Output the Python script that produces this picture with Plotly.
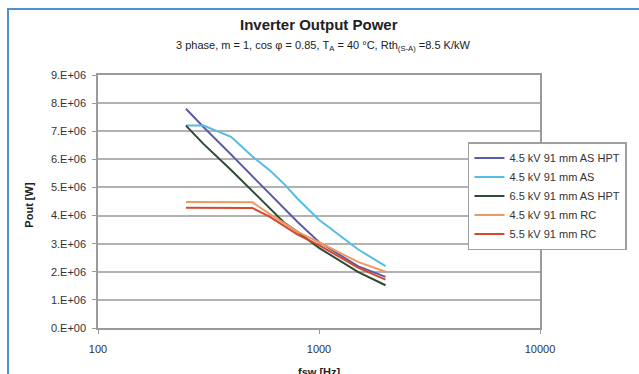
import plotly.graph_objects as go

# ---- data ----
freq = [250, 300, 400, 500, 600, 700, 800, 1000, 1500, 2000]
p_45_as_hpt = [7.8e6, 7.15e6, 6.17e6, 5.4e6, 4.77e6, 4.23e6, 3.77e6, 3.06e6, 2.2e6, 1.82e6]
p_45_as = [7.2e6, 7.2e6, 6.8e6, 6.1e6, 5.6e6, 5.1e6, 4.6e6, 3.85e6, 2.8e6, 2.2e6]
p_65_as_hpt = [7.2e6, 6.55e6, 5.62e6, 4.87e6, 4.23e6, 3.73e6, 3.42e6, 2.85e6, 2.0e6, 1.52e6]
p_45_rc = [4.48e6, 4.48e6, 4.48e6, 4.47e6, 4.05e6, 3.7e6, 3.42e6, 3.05e6, 2.35e6, 2.0e6]
p_55_rc = [4.28e6, 4.28e6, 4.28e6, 4.27e6, 3.95e6, 3.62e6, 3.32e6, 2.95e6, 2.15e6, 1.72e6]

series_names = ["4.5 kV 91 mm AS HPT", "4.5 kV 91 mm AS", "6.5 kV 91 mm AS HPT",
                "4.5 kV 91 mm RC", "5.5 kV 91 mm RC"]
series_vals = [p_45_as_hpt, p_45_as, p_65_as_hpt, p_45_rc, p_55_rc]
series_colors = ["#5b5ba8", "#55bde3", "#2f4a36", "#eb9a60", "#d9472c"]

y_tickvals = [0, 1e6, 2e6, 3e6, 4e6, 5e6, 6e6, 7e6, 8e6, 9e6]
y_ticktext = ["0.E+00", "1.E+06", "2.E+06", "3.E+06", "4.E+06",
              "5.E+06", "6.E+06", "7.E+06", "8.E+06", "9.E+06"]
x_tickvals = [100, 1000, 10000]
x_ticktext = ["100", "1000", "10000"]

FONT = "Liberation Sans, Arial, sans-serif"

fig = go.Figure()
for name, vals, col in zip(series_names, series_vals, series_colors):
    fig.add_trace(go.Scatter(x=freq, y=vals, name=name, mode="lines",
                             line=dict(color=col, width=2)))

axis_common = dict(showline=True, linecolor="#9a9a9a", linewidth=1.5, mirror=True,
                   ticks="outside", ticklen=4, tickcolor="#9a9a9a",
                   tickfont=dict(family=FONT, size=11, color="#333333"),
                   zeroline=False)

fig.update_xaxes(type="log", range=[2, 4], tickvals=x_tickvals, ticktext=x_ticktext,
                 showgrid=False, ticklabelstandoff=6, **axis_common)
fig.update_yaxes(range=[0, 9e6], tickvals=y_tickvals, ticktext=y_ticktext,
                 showgrid=True, gridcolor="#b2b2b2", gridwidth=2,
                 ticklabelstandoff=4, **axis_common)

fig.update_layout(
    width=639, height=374,
    margin=dict(l=98, r=94, t=75, b=46),
    paper_bgcolor="white", plot_bgcolor="white",
    font=dict(family=FONT, color="#222222"),
    showlegend=True,
    legend=dict(x=0.837, y=0.735, xanchor="left", yanchor="top",
                bgcolor="white", bordercolor="#a0a0a0", borderwidth=1.5,
                font=dict(family=FONT, size=11, color="#333333"),
                itemwidth=30, tracegroupgap=0),
    shapes=[dict(type="rect", xref="paper", yref="paper",
                 x0=-0.2036, x1=1.3, y0=-0.3, y1=1.261,
                 line=dict(color="#4a92d4", width=2), layer="above")],
    annotations=[
        dict(text="<b>Inverter Output Power</b>", xref="paper", yref="paper",
             x=0.5, y=1.198, xanchor="center", yanchor="middle", showarrow=False,
             font=dict(family=FONT, size=15, color="#222222")),
        dict(text="3 phase, m = 1, cos φ = 0.85, T<sub>A</sub> = 40 °C, Rth<sub>(S-A)</sub> =8.5 K/kW",
             xref="paper", yref="paper", x=0.51, y=1.115, xanchor="center", yanchor="middle",
             showarrow=False, font=dict(family=FONT, size=11, color="#222222")),
        dict(text="<b>Pout [W]</b>", xref="paper", yref="paper", x=-0.157, y=0.486,
             xanchor="center", yanchor="middle", textangle=-90, showarrow=False,
             font=dict(family=FONT, size=11, color="#222222")),
        dict(text="<b>fsw [Hz]</b>", xref="paper", yref="paper", x=0.5, y=-0.142,
             xanchor="center", yanchor="top", showarrow=False,
             font=dict(family=FONT, size=11, color="#222222")),
    ],
)

fig.write_html("out.html")
